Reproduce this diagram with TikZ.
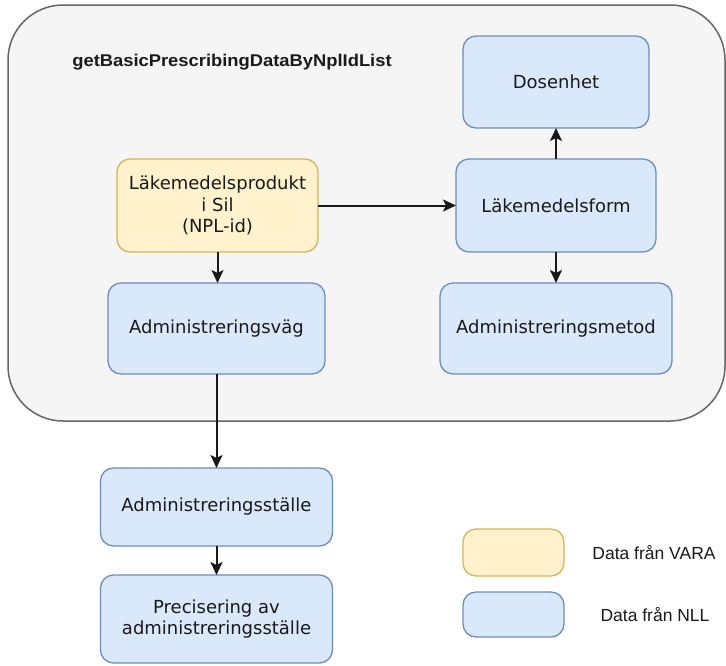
\documentclass[tikz,border=0pt]{standalone}
\usepackage{fontspec}
\setmainfont{DejaVu Sans}
\newfontfamily\arialfont{Liberation Sans}
\usetikzlibrary{arrows.meta}
\definecolor{blfill}{HTML}{DAE8FC}
\definecolor{bldraw}{HTML}{6C8EBF}
\definecolor{yefill}{HTML}{FFF2CC}
\definecolor{yedraw}{HTML}{D6B656}
\definecolor{grfill}{HTML}{F5F5F5}
\definecolor{grdraw}{HTML}{666666}
\definecolor{txt}{HTML}{1A1A1A}
\tikzset{
  basebox/.style={rounded corners=13pt, line width=1.3pt, align=center, outer sep=0pt,
    inner sep=2pt, text=txt, font=\fontsize{18}{21.7}\selectfont},
  nll/.style={basebox, fill=blfill, draw=bldraw},
  vara/.style={basebox, fill=yefill, draw=yedraw},
  conn/.style={line width=2pt, draw=black!90, -{Stealth[length=13pt,width=12pt,inset=3pt]}},
  legtext/.style={text=txt, font=\arialfont\fontsize{17.5}{21}\selectfont},
}
\begin{document}
\begin{tikzpicture}[x=1pt,y=-1pt]
\useasboundingbox (0,0) rectangle (726,665);
\fill[white] (0,0) rectangle (726,665);
% container
\draw[fill=grfill, draw=grdraw, line width=1.5pt, rounded corners=55pt] (8,5) rectangle (725,421);
\node[text=txt, font=\arialfont\bfseries\fontsize{17}{20}\selectfont, xscale=1.08] (title) at (232,62) {getBasicPrescribingDataByNplIdList};
% nodes
\node[nll, minimum width=186pt, minimum height=92pt] (dos) at (556,82) {Dosenhet};
\node[nll, minimum width=200pt, minimum height=93pt] (form) at (556,205.5) {Läkemedelsform};
\node[nll, minimum width=232pt, minimum height=91pt] (metod) at (556,328.5) {Administreringsmetod};
\node[vara, minimum width=201pt, minimum height=93pt] (prod) at (217.5,205.5) {Läkemedelsprodukt\\ i Sil\\ (NPL-id)};
\node[nll, minimum width=217pt, minimum height=91pt] (vag) at (216.5,328.5) {Administreringsväg};
\node[nll, minimum width=232pt, minimum height=78pt] (stalle) at (216.5,507) {Administreringsställe};
\node[nll, minimum width=232pt, minimum height=88pt] (prec) at (216.5,619) {Precisering av\\ administreringsställe};
% legend
\node[vara, minimum width=101pt, minimum height=47pt] (legv) at (513.5,552.5) {};
\node[nll, minimum width=101pt, minimum height=45pt] (legn) at (513.5,614.5) {};
\node[legtext] (legvt) at (654,553) {Data från VARA};
\node[legtext] (legnt) at (655,615) {Data från NLL};
% connectors
\draw[conn] (prod.east) -- (form.west);
\draw[conn] (prod.south) -- (prod.south |- vag.north);
\draw[conn] (form.north) -- (dos.south);
\draw[conn] (form.south) -- (metod.north);
\draw[conn] (vag.south) -- (stalle.north);
\draw[conn] (stalle.south) -- (prec.north);
\end{tikzpicture}
\end{document}
